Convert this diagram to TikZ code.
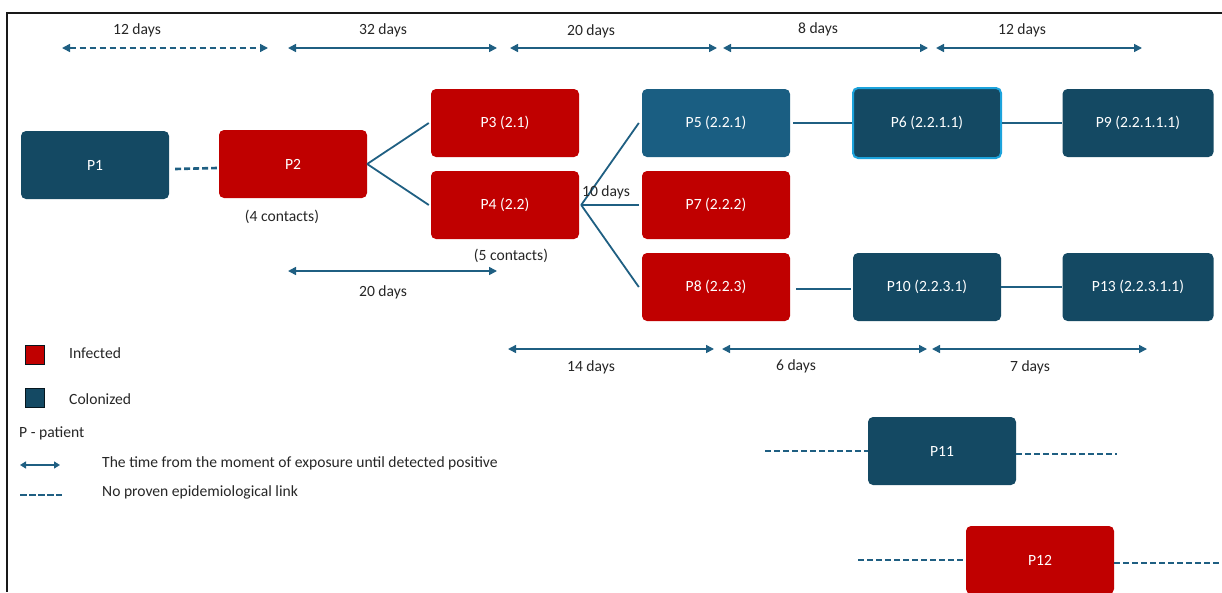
\documentclass[tikz,border=0pt]{standalone}
\usepackage{fontspec}
\setmainfont{Carlito}
\usetikzlibrary{arrows.meta}
\definecolor{infred}{HTML}{C00000}
\definecolor{coldark}{HTML}{144963}
\definecolor{colmid}{HTML}{1A5E82}
\definecolor{linkblue}{HTML}{1F5F82}
\definecolor{edgelight}{HTML}{1CA3DC}
\tikzset{
  patient/.style={rectangle, rounded corners=5pt, minimum width=148pt, minimum height=68pt, inner sep=0pt, text=white, font=\fontsize{15.6}{18}\selectfont},
  infected/.style={patient, fill=infred},
  colonized/.style={patient, fill=coldark},
  link/.style={draw=linkblue, line width=1.8pt},
  nolink/.style={draw=linkblue, line width=2.6pt, dash pattern=on 6pt off 3pt},
  dayspan/.style={draw=linkblue, line width=1.6pt, {Triangle[length=8pt,width=8pt]}-{Triangle[length=8pt,width=8pt]}},
  daylabel/.style={text=black!85, font=\fontsize{15.6}{18}\selectfont, inner sep=1pt},
  keybox/.style={draw=black!70!coldark, line width=1.2pt, minimum size=19pt, inner sep=0pt},
}
\def\timespan[#1](#2:#3:#4){\draw[#1] (#2,#4) -- (#3,#4);}

\begin{document}
\begin{tikzpicture}[x=1pt, y=-1pt]
			%%%%% START %%%%%
			\useasboundingbox (0,0) rectangle (1222,592);
			\clip (0,0) rectangle (1222,592);
			\draw[line width=1.5pt, black!90] (1222,13) -- (7,13) -- (7,592);
			
			\node[colonized] (p1) at (95,165) {P1};
			\node[infected] (p2) at (293,164) {P2};
			\node[infected] (p3) at (505,123) {P3 (2.1)};
			\node[infected] (p4) at (505,205) {P4 (2.2)};
			\node[colonized, fill=colmid] (p5) at (716,123) {P5 (2.2.1)};
			\node[colonized, draw=edgelight, line width=2pt, minimum width=148pt, minimum height=70pt] (p6) at (927,123) {P6 (2.2.1.1)};
			\node[colonized, minimum width=151pt] (p9) at (1138,123) {P9 (2.2.1.1.1)};
			\node[infected] (p7) at (716,205) {P7 (2.2.2)};
			\node[infected] (p8) at (716,287) {P8 (2.2.3)};
			\node[colonized] (p10) at (927,287) {P10 (2.2.3.1)};
			\node[colonized, minimum width=151pt] (p13) at (1138,287) {P13 (2.2.3.1.1)};
			\node[colonized] (p11) at (942,451) {P11};
			\node[infected] (p12) at (1040,560) {P12};
			
			\draw[nolink] ([xshift=6pt, yshift=-4pt]p1.east) -- ([xshift=-2pt, yshift=-4pt]p2.west);
			\draw[link] (p2.east) -- ([xshift=-2pt]p3.west);
			\draw[link] (p2.east) -- ([xshift=-2pt]p4.west);
			\draw[link] ([xshift=2pt]p4.east) -- ([xshift=-3pt]p5.west);
			\draw[link] ([xshift=2pt]p4.east) -- ([xshift=-3pt]p7.west);
			\draw[link] ([xshift=2pt]p4.east) -- ([xshift=-3pt]p8.west);
			\draw[link] ([xshift=3pt]p5.east) -- (p6.west);
			\draw[link] (p6.east) -- (p9.west);
			\draw[link] ([xshift=6pt, yshift=-2pt]p8.east) -- ([xshift=-2pt, yshift=-2pt]p10.west);
			\draw[link] (p10.east) -- (p13.west);
			
			\coordinate (p11left) at (765,451);
			\coordinate (p11right) at (1117,454);
			\coordinate (p12left) at (858,560);
			\coordinate (p12right) at (1222,563);
			\draw[nolink] (p11left) -- (p11.west);
			\draw[nolink] ([yshift=-3pt]p11.east) -- (p11right);
			\draw[nolink] (p12left) -- (p12.west);
			\draw[nolink] ([yshift=-3pt]p12.east) -- (p12right);
			
			\node[daylabel] (contacts2) at (282,217) {(4 contacts)};
			\node[daylabel] (contacts4) at (511,256) {(5 contacts)};
			\node[daylabel] (days10) at (606,192) {10 days};
			
			% time spans above
			\timespan[dayspan, dash pattern=on 6pt off 4pt](62:268:48);
			\timespan[dayspan](288:497:48);
			\timespan[dayspan](510:717:48);
			\timespan[dayspan](723:928:48);
			\timespan[dayspan](936:1142:48);
			\node[daylabel] (span1) at (137,30) {12 days};
			\node[daylabel] (span2) at (383,30) {32 days};
			\node[daylabel] (span3) at (591,31) {20 days};
			\node[daylabel] (span4) at (818,29) {8 days};
			\node[daylabel] (span5) at (1022,30) {12 days};
			
			% time spans below
			\timespan[dayspan](288:497:271);
			\timespan[dayspan](508:714:349);
			\timespan[dayspan](722:927:349);
			\timespan[dayspan](932:1147:349);
			\node[daylabel] (span6) at (383,292) {20 days};
			\node[daylabel] (span7) at (591,367) {14 days};
			\node[daylabel] (span8) at (796,366) {6 days};
			\node[daylabel] (span9) at (1030,367) {7 days};
			
			% key
			\node[keybox, fill=infred] (keyinf) at (35,355) {};
			\node[keybox, fill=coldark] (keycol) at (35,398) {};
			\node[daylabel, anchor=west] (keyinftext) at (68,353) {Infected};
			\node[daylabel, anchor=west] (keycoltext) at (68,399) {Colonized};
			\node[daylabel, anchor=west] (keypat) at (18,433) {P - patient};
			\timespan[dayspan, line width=1.4pt, {Triangle[length=6pt,width=7pt]}-{Triangle[length=6pt,width=7pt]}](20:60:465);
			\draw[nolink, dash pattern=on 6.5pt off 2.5pt] (20,495) -- (62,495);
			\node[daylabel, anchor=west] (keyspan) at (101,463) {The time from the moment of exposure until detected positive};
			\node[daylabel, anchor=west] (keylink) at (101,492) {No proven epidemiological link};
			%%%%% END %%%%%
\end{tikzpicture}
\end{document}
